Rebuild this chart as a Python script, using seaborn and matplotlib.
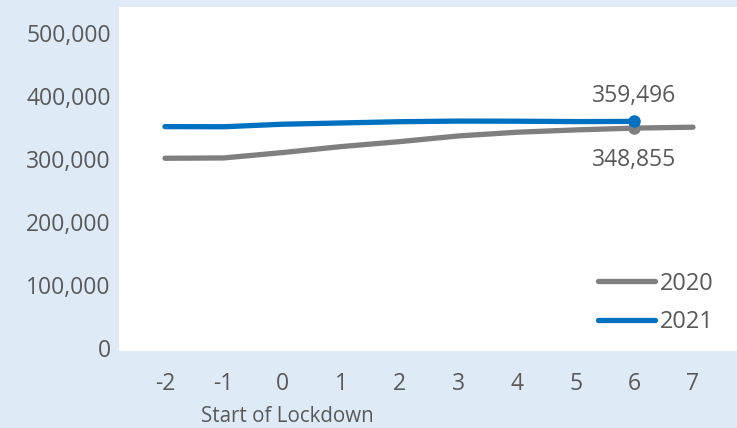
import matplotlib
matplotlib.use("Agg")
import numpy
import pandas
import seaborn as sns
from matplotlib import pyplot

# weeks relative to the start of lockdown
weeks = [-2, -1, 0, 1, 2, 3, 4, 5, 6, 7]
values_2020 = [301000, 301500, 310000, 319500, 327400, 336400, 342300, 346000, 348855, 350300]
values_2021 = [351200, 351000, 355000, 357000, 359000, 360000, 359800, 359200, 359496, numpy.nan]
y_ticks = [0, 100000, 200000, 300000, 400000, 500000]

colors = {"2020": "#7f7f7f", "2021": "#0070c0"}
bg = "#deebf7"
text_color = "#595959"

sns.set_style("white")
pyplot.rcParams["font.family"] = ["Open Sans", "DejaVu Sans"]
pyplot.rcParams["axes.unicode_minus"] = False

frame = pandas.DataFrame({
    "week": weeks * 2,
    "value": values_2020 + values_2021,
    "year": ["2020"] * len(weeks) + ["2021"] * len(weeks),
})

W, H = 737, 428
figure = pyplot.figure(figsize=(W / 100, H / 100), dpi=100)
figure.patch.set_facecolor(bg)
axis = figure.add_axes([119 / W, 1 - 351 / H, (W - 119) / W, (351 - 7) / H])
axis.set_facecolor("white")

sns.lineplot(
    data=frame.dropna(), x="week", y="value", hue="year", palette=colors,
    linewidth=3.8, ax=axis, solid_capstyle="round", legend=True,
)

# end point markers and labels at week 6
last = weeks.index(6)
for year, series, dy in [("2020", values_2020, -23), ("2021", values_2021, 18)]:
    axis.plot(weeks[last], series[last], "o", color=colors[year], markersize=8)
    axis.annotate(f"{series[last]:,}", (weeks[last], series[last]),
                  xytext=(0, dy), textcoords="offset points",
                  ha="center", va="center", fontsize=16.5, color=text_color)

axis.set_xlim(-2.784, 7.75)
axis.set_ylim(-4800, 541000)
axis.set_xticks(weeks)
axis.set_yticks(y_ticks)
axis.set_yticklabels([f"{v:,}" for v in y_ticks])
axis.tick_params(axis="both", length=0, labelsize=16.5, colors=text_color)
axis.tick_params(axis="y", pad=6)
axis.tick_params(axis="x", pad=15)
axis.set_xlabel("")
axis.set_ylabel("")
for spine in axis.spines.values():
    spine.set_visible(False)

figure.text(287 / W, 1 - 417 / H, "Start of Lockdown", ha="center", va="center",
            fontsize=14.8, color=text_color)

handles, labels = axis.get_legend_handles_labels()
legend = axis.legend(handles, labels, loc="center left", frameon=False,
                     bbox_to_anchor=(577 / W, 1 - 303 / H),
                     bbox_transform=figure.transFigure,
                     handlelength=2.4, handletextpad=0.2, labelspacing=0.62,
                     fontsize=17, labelcolor=text_color)
for line in legend.get_lines():
    line.set_linewidth(3.8)
    line.set_solid_capstyle("round")

figure.savefig("out.png", dpi=100, facecolor=bg)
